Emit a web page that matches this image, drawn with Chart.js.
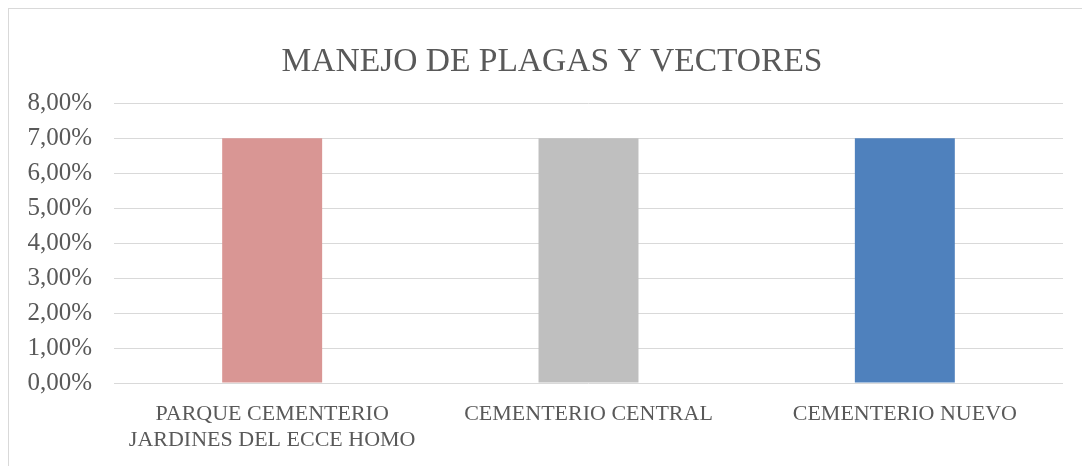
<!DOCTYPE html>
<html>
<head>
<meta charset="utf-8">
<script src="https://cdn.jsdelivr.net/npm/chart.js@4"></script>
<style>
  html, body { margin: 0; padding: 0; background: #fff; overflow: hidden; }
  #wrap { position: relative; width: 1082px; height: 466px; }
  #frame { position: absolute; left: 8px; top: 8px; width: 1100px; height: 500px; border: 1px solid #d9d9d9; }
  canvas { position: absolute; left: 0; top: 0; }
</style>
</head>
<body>
<div id="wrap">
  <div id="frame"></div>
  <canvas id="chart" width="1082" height="466"></canvas>
</div>
<script>
// data
const categories = [
  ['PARQUE CEMENTERIO', 'JARDINES DEL ECCE HOMO'],
  'CEMENTERIO CENTRAL',
  'CEMENTERIO NUEVO'
];
const values = [7, 7, 7];
const barColors = ['#d99694', '#bfbfbf', '#4f81bd'];
const yTicks = [0, 1, 2, 3, 4, 5, 6, 7, 8];

const font = "'Liberation Serif', 'DejaVu Serif', serif";
const textColor = '#595959';

// the original title is centred a bit to the right, nudge the title box
const shiftTitle = {
  id: 'shiftTitle',
  afterLayout(chart) {
    if (chart.titleBlock) chart.titleBlock.left = 41;
  }
};

const ctx = document.getElementById('chart');
new Chart(ctx, {
  type: 'bar',
  data: {
    labels: categories,
    datasets: [{
      data: values,
      backgroundColor: barColors,
      borderWidth: 0,
      categoryPercentage: 1,
      barPercentage: 0.316
    }]
  },
  options: {
    responsive: false,
    animation: false,
    layout: { padding: { left: 0, right: 19, top: 0, bottom: 0 } },
    plugins: {
      legend: { display: false },
      tooltip: { enabled: false },
      title: {
        display: true,
        text: 'MANEJO DE PLAGAS Y VECTORES',
        color: textColor,
        font: { family: font, size: 33.5, weight: 'normal', lineHeight: 1.2 },
        padding: { top: 42, bottom: 21 }
      }
    },
    scales: {
      y: {
        min: 0,
        max: 8,
        afterBuildTicks: (scale) => { scale.ticks = yTicks.map(v => ({ value: v })); },
        afterFit: (scale) => { scale.width = 114; },
        border: { display: false },
        grid: { color: '#d9d9d9', lineWidth: 1, drawTicks: false },
        ticks: {
          padding: 22,
          color: textColor,
          font: { family: font, size: 25 },
          callback: (v) => v.toFixed(2).replace('.', ',') + '%'
        }
      },
      x: {
        afterFit: (scale) => { scale.height = 83; },
        border: { display: false },
        grid: { display: false, drawTicks: false },
        ticks: {
          padding: 18,
          color: textColor,
          maxRotation: 0,
          font: { family: font, size: 22, lineHeight: 1.2 }
        }
      }
    }
  },
  plugins: [shiftTitle]
});
</script>
</body>
</html>
